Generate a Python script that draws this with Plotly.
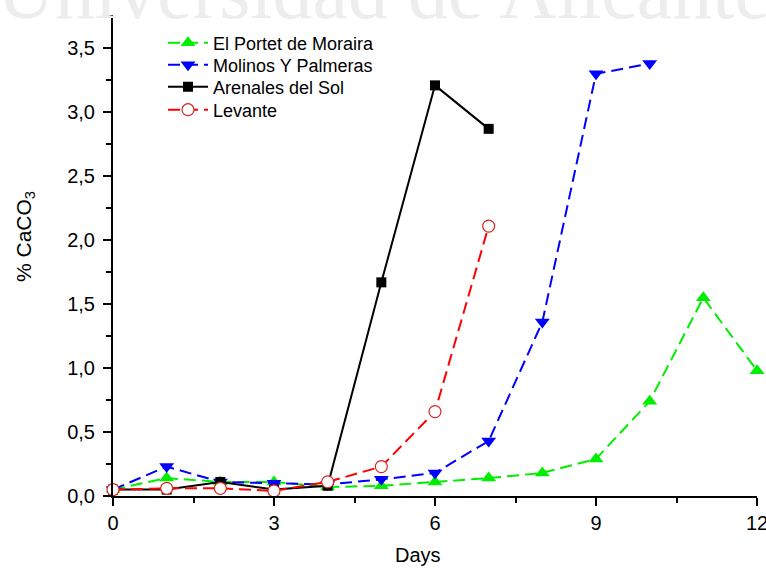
import plotly.graph_objects as go

days_green = [0, 1, 2, 3, 4, 5, 6, 7, 8, 9, 10, 11, 12]
green = [0.05, 0.14, 0.11, 0.11, 0.07, 0.08, 0.11, 0.14, 0.18, 0.29, 0.74, 1.55, 0.98]
days_blue = [0, 1, 2, 3, 4, 5, 6, 7, 8, 9, 10]
blue = [0.05, 0.23, 0.11, 0.10, 0.09, 0.13, 0.18, 0.43, 1.36, 3.30, 3.38]
days_black = [0, 1, 2, 3, 4, 5, 6, 7]
black = [0.05, 0.05, 0.11, 0.05, 0.08, 1.67, 3.21, 2.87]
days_red = [0, 1, 2, 3, 4, 5, 6, 7]
red = [0.05, 0.06, 0.06, 0.04, 0.11, 0.23, 0.66, 2.11]

names = ["El Portet de Moraira", "Molinos Y Palmeras", "Arenales del Sol", "Levante"]
x_ticks = [0, 3, 6, 9, 12]
y_ticks = [0, 0.5, 1, 1.5, 2, 2.5, 3, 3.5]

W, H = 766, 569
ml, mr, mt, mb = 113, 9, 15, 73
PW, PH = W - ml - mr, H - mt - mb

def px_x(px):
    return (px - ml) / PW

def px_y(py):
    return (H - mb - py) / PH

DASH = "12px,6px"

fig = go.Figure()
fig.add_trace(go.Scatter(
    x=days_green, y=green, name=names[0], mode="lines+markers", legend="legend",
    line=dict(color="#00ee00", width=2, dash=DASH),
    marker=dict(symbol="triangle-up", size=13, color="#00ee00"),
    cliponaxis=False))
fig.add_trace(go.Scatter(
    x=days_blue, y=blue, name=names[1], mode="lines+markers", legend="legend2",
    line=dict(color="#0000ff", width=2, dash=DASH),
    marker=dict(symbol="triangle-down", size=13, color="#0000ff"),
    cliponaxis=False))
fig.add_trace(go.Scatter(
    x=days_black, y=black, name=names[2], mode="lines+markers", legend="legend3",
    line=dict(color="#000000", width=2),
    marker=dict(symbol="square", size=10, color="#000000"),
    cliponaxis=False))
fig.add_trace(go.Scatter(
    x=days_red, y=red, name=names[3], mode="lines+markers", legend="legend4",
    line=dict(color="#ff0000", width=2, dash=DASH),
    marker=dict(symbol="circle", size=12, color="white",
                line=dict(color="#dd2222", width=1.2)),
    cliponaxis=False))

font_family = "Liberation Sans, Arial, sans-serif"

def leg(yc):
    return dict(x=px_x(163), y=px_y(yc), xanchor="left", yanchor="middle",
                bgcolor="rgba(0,0,0,0)", font=dict(size=18), itemwidth=40)

fig.update_layout(
    width=W, height=H,
    margin=dict(l=ml, r=mr, t=mt, b=mb, autoexpand=False),
    paper_bgcolor="white", plot_bgcolor="white",
    separators=",.",
    font=dict(family=font_family, size=20, color="black"),
    showlegend=True,
    legend=leg(43), legend2=leg(65), legend3=leg(87), legend4=leg(110),
    xaxis=dict(range=[0, 12], tickvals=x_ticks, showgrid=False, automargin=False,
               zeroline=False, showline=True, linecolor="black", linewidth=2,
               ticks="outside", ticklen=8, tickwidth=2, tickcolor="black",
               ticklabeloverflow="allow",
               minor=dict(tickvals=[1.5, 4.5, 7.5, 10.5], ticks="outside",
                          ticklen=5, tickwidth=2, tickcolor="black"),
               tickfont=dict(size=20)),
    yaxis=dict(range=[0, 3.76], tickvals=y_ticks, automargin=False,
               tickformat=".1f", showgrid=False, zeroline=False,
               showline=True, linecolor="black", linewidth=2,
               ticks="outside", ticklen=8, tickwidth=2, tickcolor="black",
               ticklabelstandoff=4, ticklabeloverflow="allow",
               minor=dict(tickvals=[0.25, 0.75, 1.25, 1.75, 2.25, 2.75, 3.25, 3.75],
                          ticks="outside", ticklen=5, tickwidth=2, tickcolor="black"),
               tickfont=dict(size=20)),
)

# axis titles
fig.add_annotation(text="Days", xref="paper", yref="paper",
                   x=px_x(418), y=px_y(555),
                   xanchor="center", yanchor="middle", showarrow=False,
                   font=dict(size=20))
fig.add_annotation(text="% CaCO<sub>3</sub>", xref="paper", yref="paper",
                   x=px_x(25), y=px_y(237),
                   xanchor="center", yanchor="middle", textangle=-90,
                   showarrow=False, font=dict(size=21))

# watermark
fig.add_annotation(text="Universidad de Alicante", xref="paper", yref="paper",
                   x=px_x(-5), y=px_y(37),
                   xanchor="left", yanchor="bottom", showarrow=False,
                   font=dict(family="Liberation Serif, Times New Roman, serif",
                             size=80, color="#ededed"))

fig.write_html("out.html")
